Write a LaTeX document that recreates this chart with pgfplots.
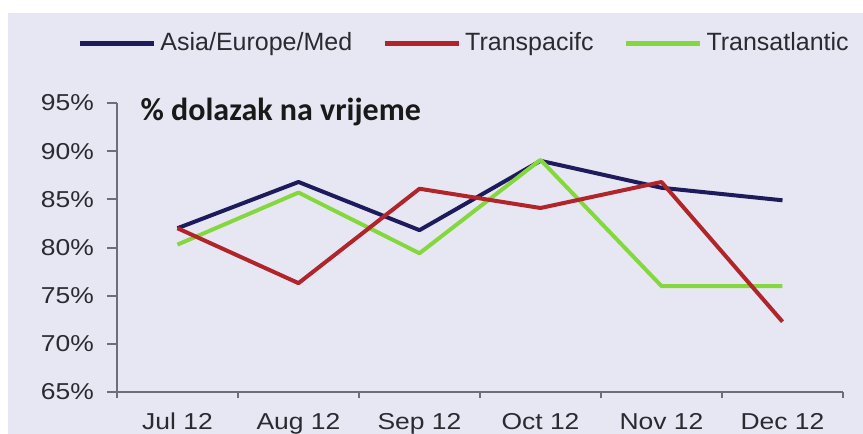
\documentclass[border=0pt]{standalone}
\usepackage{fontspec}
\setmainfont{Liberation Sans}
\newfontfamily\titlefont{Carlito}
\newfontfamily\tickfont[FakeStretch=1.15]{Liberation Sans}
\usepackage{pgfplots}
\pgfplotsset{compat=1.18}

\definecolor{bgcol}{HTML}{E7E7F3}
\definecolor{axcol}{HTML}{6E6E78}
\definecolor{navy}{HTML}{1E1B5C}
\definecolor{tpred}{HTML}{B0242A}
\definecolor{tagreen}{HTML}{84D83E}
\definecolor{txt}{HTML}{2A2A30}

\begin{document}
\begin{tikzpicture}
% 1 px of the reference = 0.5pt, origin at the axis corner
\useasboundingbox (-58.5pt,-21pt) rectangle (373pt,196pt);
\fill[bgcol] (-54.5pt,-21pt) rectangle (373pt,189.5pt);
\begin{axis}[
  scale only axis,
  width=363pt, height=144.5pt,
  xmin=-0.5, xmax=5.5,
  ymin=65, ymax=95,
  axis x line=bottom, axis y line=left,
  axis line style={-, draw=axcol, line width=1pt},
  tick align=outside,
  xtick={0,...,5},
  xticklabels={Jul 12,Aug 12,Sep 12,Oct 12,Nov 12,Dec 12},
  major x tick style={draw=none},
  minor xtick={-0.5,0.5,...,5.5},
  minor x tick style={draw=axcol, line width=1pt},
  minor tick length=3pt,
  ytick={65,70,...,95},
  yticklabels={65\%,70\%,75\%,80\%,85\%,90\%,95\%},
  ytick style={draw=axcol, line width=1pt},
  major tick length=5pt,
  tick label style={font=\tickfont\fontsize{11.5}{13}\selectfont, text=txt},
  xticklabel style={yshift=-2pt},
  yticklabel style={xshift=-3pt},
  legend columns=3,
  legend style={draw=none, fill=none, at={(-0.055,1.2076)}, anchor=west,
    font=\fontsize{12.5}{14}\selectfont, text=txt,
    inner sep=0pt, column sep=0pt,
    nodes={inner xsep=2pt, inner ysep=0pt},
    /tikz/every even column/.append style={column sep=13pt}},
  legend image code/.code={\draw[#1, line width=2.5pt] (0pt,0pt) -- (37pt,0pt);},
  clip=false,
]
\addlegendimage{navy}
\addlegendentry{Asia/Europe/Med}
\addlegendimage{tpred}
\addlegendentry{Transpacifc}
\addlegendimage{tagreen}
\addlegendentry{Transatlantic}

\addplot[navy, line width=2pt, line join=round, forget plot] coordinates {
  (0,82.0) (1,86.8) (2,81.8) (3,89.0) (4,86.2) (5,84.9)};
\addplot[tagreen, line width=2pt, line join=round, forget plot] coordinates {
  (0,80.3) (1,85.7) (2,79.4) (3,89.1) (4,76.0) (5,76.0)};
\addplot[tpred, line width=2pt, line join=round, forget plot] coordinates {
  (0,82.0) (1,76.3) (2,86.1) (3,84.1) (4,86.8) (5,72.3)};

\node[anchor=base west, inner sep=0pt, text=black!90]
  at (axis description cs:0.032,0.941)
  {\titlefont\bfseries\fontsize{16}{18}\selectfont \% dolazak na vrijeme};
\end{axis}
\end{tikzpicture}
\end{document}
